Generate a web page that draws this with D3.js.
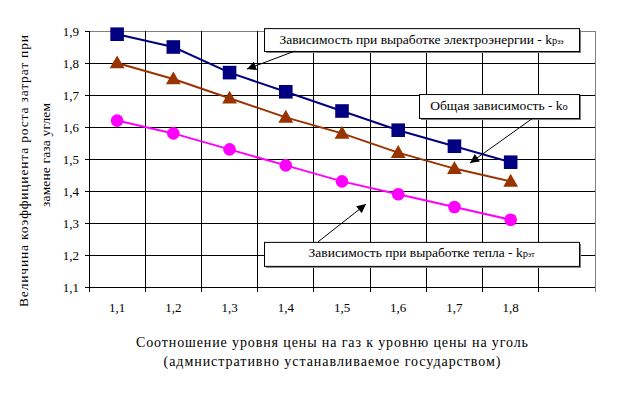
<!DOCTYPE html>
<html><head><meta charset="utf-8">
<script src="https://cdnjs.cloudflare.com/ajax/libs/d3/7.8.5/d3.min.js"></script>
<style>body{margin:0;background:#fff}svg{display:block}</style>
</head><body><svg id="c" width="623" height="393"></svg>
<script>
// ---- data ----
const categories = ["1,1","1,2","1,3","1,4","1,5","1,6","1,7","1,8"];
const electricity = [1.89,1.85,1.77,1.71,1.65,1.59,1.54,1.49]; // k р ээ
const overall     = [1.80,1.75,1.69,1.63,1.58,1.52,1.47,1.43]; // k о
const heat        = [1.62,1.58,1.53,1.48,1.43,1.39,1.35,1.31]; // k р эт
const yTicks = [1.1,1.2,1.3,1.4,1.5,1.6,1.7,1.8,1.9];
const yTickLabels = ["1,1","1,2","1,3","1,4","1,5","1,6","1,7","1,8","1,9"];
const xTitle = ["Соотношение уровня цены на газ к уровню цены на уголь","(адмнистративно устанавливаемое государством)"];
const yTitle = ["Величина коэффициента роста затрат при","замене газа углем"];

const SERIF = "Liberation Serif, Times New Roman, serif";
const svg = d3.select("#c");
const L=89,R=595,T=31,B=287;
const slots = categories.concat(["_empty"]);
const x = d3.scaleBand().domain(slots).range([L,R]);
const xu = d3.scaleLinear().domain([0,slots.length]).range([L,R]);
const y = d3.scaleLinear().domain([1.1,1.9]).range([B,T]);

// fit a text element to a target width
function fit(sel, target, size){
  sel.attr("font-size",size);
  const w = sel.node().getComputedTextLength();
  if (w > target) sel.attr("font-size", size*target/w);
  else sel.attr("textLength",target).attr("lengthAdjust","spacing");
}

// grid
const g = svg.append("g").attr("shape-rendering","crispEdges");
yTicks.forEach((t,i)=>{
  if(i===0) return;
  g.append("line").attr("x1",L).attr("x2",R).attr("y1",y(t)).attr("y2",y(t))
   .attr("stroke", t===1.9? "#808080":"#000").attr("stroke-width",1);
});
for(let i=1;i<=slots.length;i++){
  g.append("line").attr("x1",xu(i)).attr("x2",xu(i)).attr("y1",T).attr("y2",B+5)
   .attr("stroke", i===slots.length? "#808080":"#000");
}
// axes
const ya = d3.axisLeft(y).tickValues(yTicks).tickFormat((d,i)=>yTickLabels[i]).tickSize(4).tickPadding(6);
svg.append("g").attr("transform",`translate(${L},0)`).call(ya)
  .attr("font-family",SERIF).attr("font-size",13)
  .call(s=>{s.select(".domain").attr("stroke","#000");s.selectAll("line").attr("stroke","#000");
    s.selectAll("text").attr("fill","#000");})
  .attr("shape-rendering","crispEdges");
svg.append("line").attr("x1",L).attr("x2",R).attr("y1",B).attr("y2",B).attr("stroke","#000").attr("shape-rendering","crispEdges");
svg.append("line").attr("x1",L).attr("x2",L).attr("y1",B).attr("y2",B+5).attr("stroke","#000").attr("shape-rendering","crispEdges");
svg.append("g").attr("font-family",SERIF).attr("font-size",13).selectAll("text").data(categories).join("text")
  .attr("x",d=>x(d)+x.bandwidth()/2).attr("y",312).attr("text-anchor","middle").text(d=>d);

// titles
const xLens=[392,337];
xTitle.forEach((t,i)=>{
  const el = svg.append("text").attr("x",332).attr("y",347+i*19).attr("text-anchor","middle")
    .attr("font-family",SERIF).text(t);
  fit(el, xLens[i], 14);
});
const yc=[171,155], yb=[28,50], yLens=[272,104];
yTitle.forEach((t,i)=>{
  const el = svg.append("text").attr("transform",`translate(${yb[i]},${yc[i]}) rotate(-90)`).attr("text-anchor","middle")
    .attr("font-family",SERIF).text(t);
  fit(el, yLens[i], 13.5);
});

// series
const series = [
  {vals:electricity,color:"#000080",shape:"square"},
  {vals:overall,color:"#993300",shape:"triangle"},
  {vals:heat,color:"#FF00FF",shape:"circle"}
];
const cx = i=>x(categories[i])+x.bandwidth()/2;
series.forEach(s=>{
  const line = d3.line().x((d,i)=>cx(i)).y(d=>y(d));
  svg.append("path").datum(s.vals).attr("d",line).attr("fill","none").attr("stroke",s.color).attr("stroke-width",2);
  const sym = s.shape==="square"? d3.symbolSquare : s.shape==="triangle"? d3.symbolTriangle : d3.symbolCircle;
  const size = s.shape==="square"? 185 : s.shape==="triangle"? 95 : 125;
  svg.append("g").selectAll("path").data(s.vals).join("path")
    .attr("d",d3.symbol().type(sym).size(size))
    .attr("transform",(d,i)=>`translate(${cx(i)},${y(d)+(s.shape==="triangle"?1:0)})`)
    .attr("fill",s.color);
});

// annotations (in band-unit / value space)
const notes = [
  {x0:3.113,x1:8.716,yt:1.909,yb:1.8375,main:"Зависимость при выработке электроэнергии - k",sub1:"р",sub2:"ээ",ax0:3.664,ay0:1.8375,ax1:2.81,ay1:1.781},
  {x0:5.87,x1:8.716,yt:1.703,yb:1.628,main:"Общая зависимость  - k",sub1:"о",sub2:"",ax0:7.897,ay0:1.628,ax1:6.777,ay1:1.4875},
  {x0:3.113,x1:8.716,yt:1.241,yb:1.166,main:"Зависимость при выработке  тепла - k",sub1:"р",sub2:"эт",ax0:4.073,ay0:1.241,ax1:4.927,ay1:1.359}
];
svg.append("defs").append("marker").attr("id","ah").attr("viewBox","0 0 10 10").attr("refX",10).attr("refY",5)
  .attr("markerWidth",11).attr("markerHeight",9).attr("markerUnits","userSpaceOnUse").attr("orient","auto")
  .append("path").attr("d","M0,0L10,5L0,10z").attr("fill","#000");
notes.forEach(n=>{
  const bx=xu(n.x0), bw=xu(n.x1)-xu(n.x0), by=y(n.yt), bh=y(n.yb)-y(n.yt);
  svg.append("rect").attr("x",bx+2).attr("y",by+2).attr("width",bw).attr("height",bh).attr("fill","#808080");
  svg.append("rect").attr("x",bx+0.5).attr("y",by+0.5).attr("width",bw).attr("height",bh).attr("fill","#fff").attr("stroke","#000").attr("stroke-width",1);
  const t = svg.append("text").attr("x",bx+bw/2).attr("y",by+15.5).attr("text-anchor","middle")
    .attr("font-family",SERIF).attr("font-size",13.5);
  t.append("tspan").text(n.main);
  t.append("tspan").attr("font-size",10.5).text(n.sub1);
  if(n.sub2) t.append("tspan").attr("font-size",7.5).text(n.sub2);
  svg.append("line").attr("x1",xu(n.ax0)).attr("y1",y(n.ay0)).attr("x2",xu(n.ax1)).attr("y2",y(n.ay1))
    .attr("stroke","#000").attr("stroke-width",1).attr("marker-end","url(#ah)");
});
</script></body></html>
